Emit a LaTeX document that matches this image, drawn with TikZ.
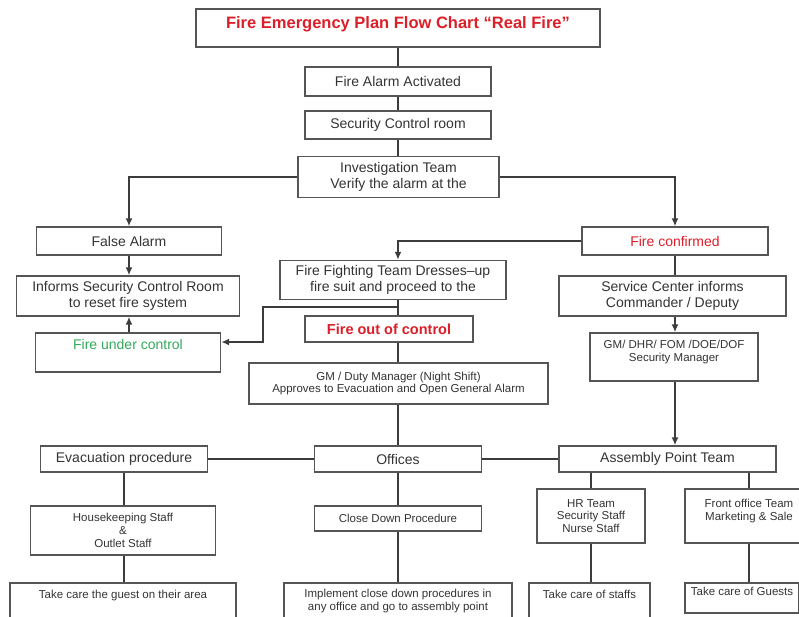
\documentclass[tikz,border=0pt]{standalone}
\usepackage{fontspec}
\setmainfont{Liberation Sans}
\usetikzlibrary{arrows.meta}
\definecolor{firered}{RGB}{220,30,40}
\definecolor{okgreen}{RGB}{50,170,90}
\definecolor{boxgray}{RGB}{85,85,85}
\definecolor{linegray}{RGB}{60,60,60}
\newcommand{\chartbig}{\fontsize{14}{16}\selectfont}
\newcommand{\chartsmall}{\fontsize{11.5}{12.8}\selectfont}
\begin{document}
\begin{tikzpicture}[x=1pt,y=-1pt]
          \useasboundingbox (0,0) rectangle (799,616);
          \tikzstyle{every node} = [draw=boxgray, rectangle, line width=1.4pt, inner sep=0pt, align=center, text=black!80, font=\chartbig];
          \tikzstyle{arr} = [draw=linegray, line width=1.6pt, -{Latex[length=8pt,width=7pt]}];
          \tikzstyle{link} = [draw=linegray, line width=1.6pt];
          % top of the chart
          \node[minimum width=404, minimum height=38, text=firered, font=\fontsize{16.5}{18}\selectfont\bfseries](title) at (398,28) {Fire Emergency Plan Flow Chart “Real Fire”\\[-8pt]\mbox{}};
          \node[minimum width=186, minimum height=29](alarm) at (398,81.5) {Fire Alarm Activated};
          \node[minimum width=186, minimum height=28](room) at (398,125) {Security Control room};
          \node[minimum width=201, minimum height=41](invest) at (398.5,177) {Investigation Team\\Verify the alarm at the};
          % false alarm side
          \node[minimum width=185, minimum height=28](false) at (129,241) {False Alarm};
          \node[minimum width=223, minimum height=40](reset) at (128,296) {Informs Security Control Room\\to reset fire system};
          \node[minimum width=185, minimum height=39, text=okgreen](under) at (128,352.5) {Fire under control\\ \mbox{}};
          % real fire side
          \node[minimum width=186, minimum height=28, text=firered](confirm) at (675,241) {Fire confirmed};
          \node[minimum width=227, minimum height=40](service) at (672.5,296) {Service Center informs\\Commander / Deputy};
          \node[minimum width=168, minimum height=48, font=\chartsmall](mgmt) at (674,357) {GM/ DHR/ FOM /DOE/DOF\\Security Manager\\ \mbox{}};
          \node[minimum width=226, minimum height=39](fight) at (393,280) {Fire Fighting Team Dresses--up\\fire suit and proceed to the};
          \node[minimum width=168, minimum height=26, text=firered, font=\fontsize{14.5}{16}\selectfont\bfseries](outctrl) at (389,329) {Fire out of control};
          \node[minimum width=299, minimum height=41, font=\chartsmall](duty) at (398.5,383.5) {GM / Duty Manager (Night Shift)\\Approves to Evacuation and Open General Alarm};
          % third row
          \node[minimum width=167, minimum height=26](evac) at (124,459) {Evacuation procedure};
          \node[minimum width=167, minimum height=26](office) at (398,459) {Offices};
          \node[minimum width=217, minimum height=26](assembly) at (667.5,459) {Assembly Point Team};
          \node[minimum width=185, minimum height=49, font=\chartsmall](house) at (123,530.5) {Housekeeping Staff\\\&\\Outlet Staff};
          \node[minimum width=167, minimum height=25, font=\chartsmall](close) at (398,518.5) {Close Down Procedure};
          \node[minimum width=108, minimum height=54, font=\chartsmall](hr) at (591,516) {HR Team\\Security Staff\\Nurse Staff};
          \node[minimum width=128, minimum height=54, font=\chartsmall](front) at (749,516) {Front office Team\\Marketing \& Sale\\ \mbox{}};
          % bottom row
          \node[minimum width=226, minimum height=36, font=\chartsmall](guest) at (123,601) {Take care the guest on their area\\ \mbox{}};
          \node[minimum width=228, minimum height=36, font=\chartsmall](implement) at (398,601) {Implement close down procedures in\\any office and go to assembly point};
          \node[minimum width=121, minimum height=36, font=\chartsmall](staffs) at (589.5,601) {Take care of staffs\\ \mbox{}};
          \node[minimum width=114, minimum height=30, font=\chartsmall](guests) at (742,598) {Take care of Guests\\ \mbox{}};
          \tikzstyle{every node} = []
          \coordinate(split) at (398,307);
          \path[link] (title) -- (alarm);
          \path[link] (alarm) -- (room);
          \path[link] (room) -- (room |- invest.north);
          \path[arr] (invest.west) -| (false.north);
          \path[arr] (invest.east) -| (confirm.north);
          \path[arr] (false.south) -- (reset.north -| false);
          \path[arr] (under.north -| false) -- (reset.south -| false);
          \path[arr] (confirm.west) -| (alarm.south |- fight.north);
          \path[link] (fight.south -| alarm) -- (outctrl.north -| alarm);
          \path[arr] (split) -- ++(-135,0) -- ++(0,35) -- (under.east |- 0,342);
          \path[link] (outctrl.south -| alarm) -- (duty.north -| alarm);
          \path[link] (duty.south -| alarm) -- (office.north -| alarm);
          \path[link] (confirm.south) -- (service.north -| confirm);
          \path[arr] (service.south -| confirm) -- (mgmt.north -| confirm);
          \path[arr] (mgmt.south -| confirm) -- (assembly.north -| confirm);
          \path[link] (evac) -- (office);
          \path[link] (office) -- (assembly);
          \path[link] (evac.south) -- (house.north -| evac);
          \path[link] (house.south -| evac) -- (guest.north -| evac);
          \path[link] (office.south) -- (close.north -| office);
          \path[link] (close.south -| office) -- (implement.north -| office);
          \path[link] (assembly.south -| hr) -- (hr);
          \path[link] (hr) -- (staffs.north -| hr);
          \path[link] (assembly.south -| front) -- (front);
          \path[link] (front) -- (guests.north -| front);
\end{tikzpicture}
\end{document}
